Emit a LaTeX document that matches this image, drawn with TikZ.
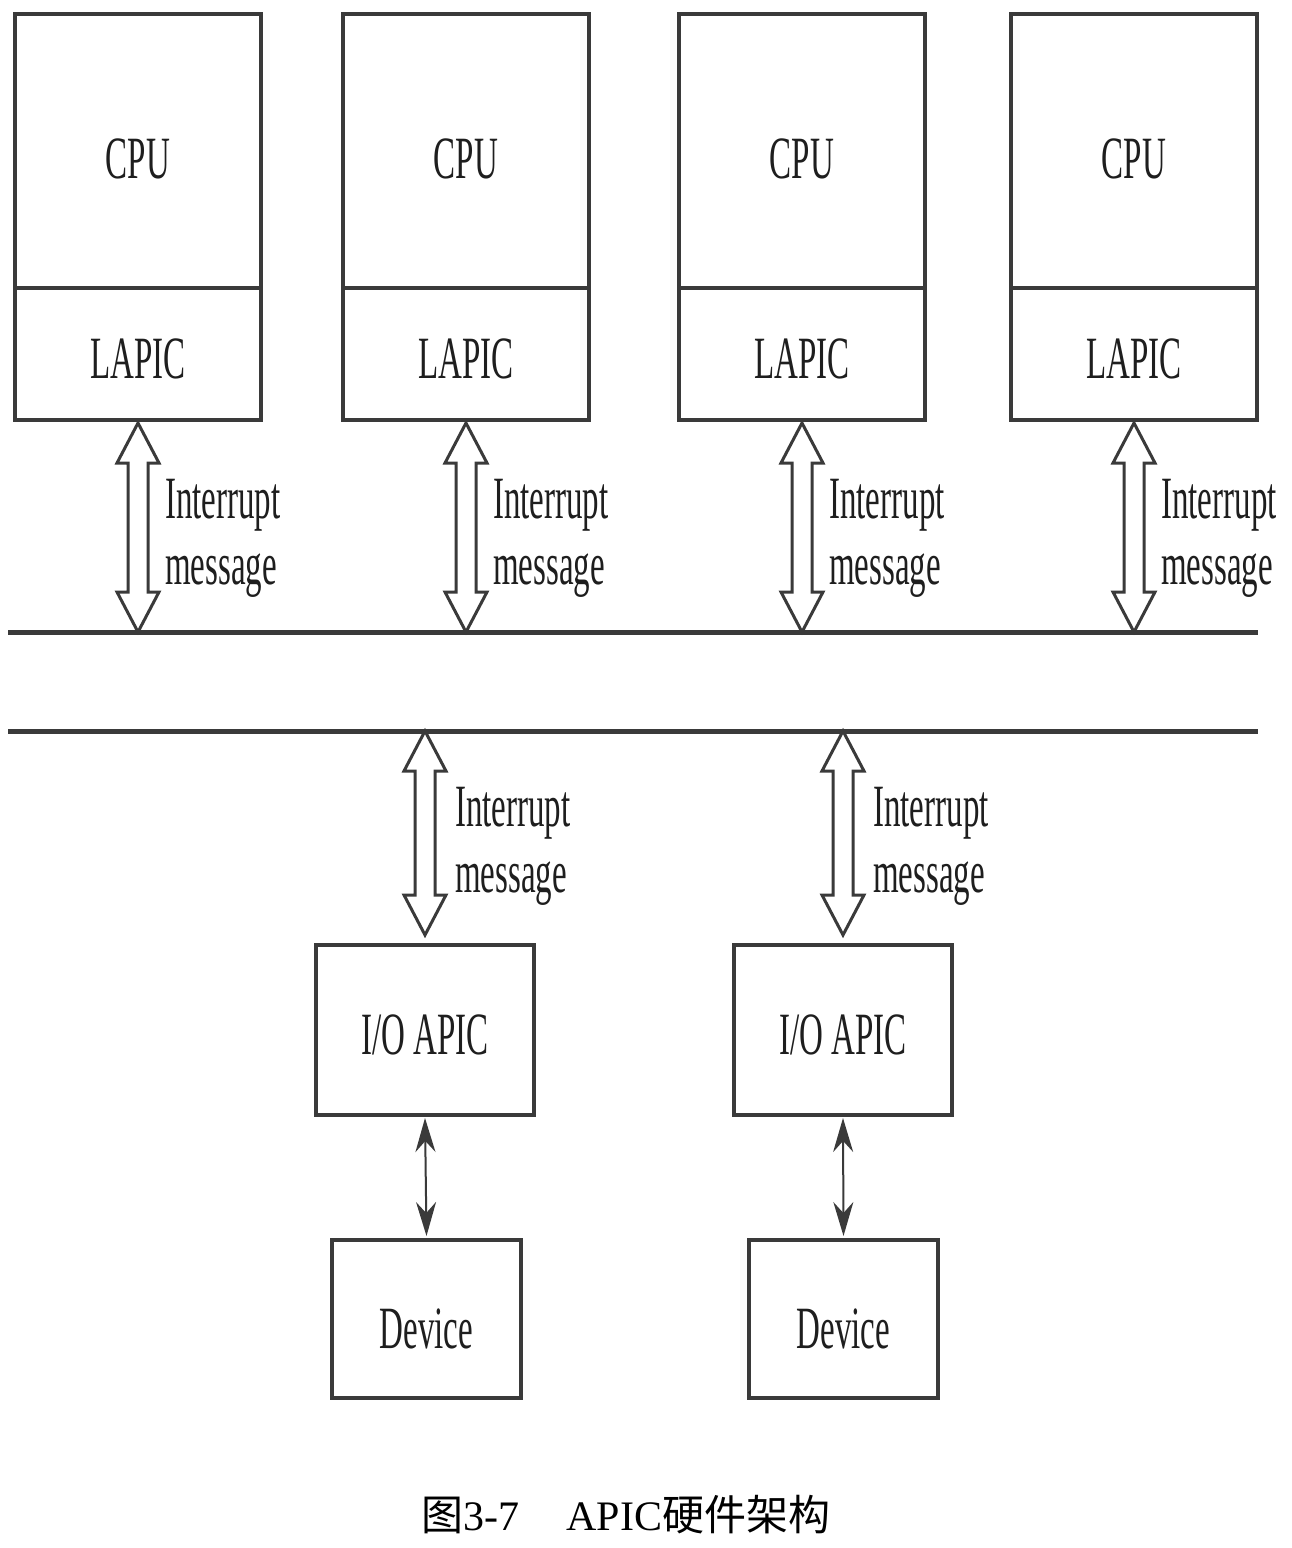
\documentclass[tikz,border=0pt]{standalone}
\usepackage{fontspec}
\setmainfont{Liberation Serif}
\newfontfamily\narrowfont[FakeStretch=0.55]{Liberation Serif}
\newfontfamily\cjk{Noto Sans CJK SC}
\usetikzlibrary{calc,arrows.meta}
\definecolor{linegray}{HTML}{3A3A3A}
\definecolor{textdark}{HTML}{1E1E1E}
\newcommand\fatarrow[2]{%
  \draw[fatarr] let \p1=#1, \p2=#2 in
    (\x1,\y1) -- (\x1+21pt,\y1-40pt) -- (\x1+10pt,\y1-40pt) -- (\x1+10pt,\y2+40pt)
    -- (\x1+21pt,\y2+40pt) -- (\x1,\y2) -- (\x1-21pt,\y2+40pt) -- (\x1-10pt,\y2+40pt)
    -- (\x1-10pt,\y1-40pt) -- (\x1-21pt,\y1-40pt) -- cycle;}
\begin{document}
\begin{tikzpicture}[x=1pt,y=-1pt,
  box/.style={draw=linegray, line width=3.8pt, inner sep=0pt, outer sep=0pt,
    text=textdark, font=\narrowfont\fontsize{60}{66}\selectfont},
  cpubox/.style={box, minimum width=246pt, minimum height=274pt, text height=54pt, text depth=0pt},
  lapicbox/.style={box, minimum width=246pt, minimum height=132pt, text height=48pt, text depth=0pt},
  iobox/.style={box, minimum width=218pt, minimum height=170pt, text height=48pt, text depth=0pt},
  devbox/.style={box, minimum width=189pt, minimum height=158pt, text height=58pt, text depth=0pt},
  bus/.style={draw=linegray, line width=5pt},
  fatarr/.style={draw=linegray, line width=3pt, fill=white, line join=miter},
  thinarr/.style={draw=linegray, line width=2pt, {Stealth[length=34pt,width=20pt]}-{Stealth[length=34pt,width=20pt]}, fill=textdark},
  lbl/.style={align=left, inner sep=0pt, text=textdark, font=\narrowfont\fontsize{60}{66}\selectfont}]
\useasboundingbox (0,0) rectangle (1291,1548);
% CPU + LAPIC columns
\foreach \i/\xl in {1/15, 2/343, 3/679, 4/1011} {
  \node[cpubox, anchor=north west] (cpu\i) at (\xl,14) {CPU};
  \node[lapicbox, anchor=north west] (lapic\i) at (\xl,288) {LAPIC};
}
% buses
\coordinate (busAL) at (8,632);
\coordinate (busAR) at (1258,632);
\coordinate (busBL) at (8,731);
\coordinate (busBR) at (1258,731);
\draw[bus] (busAL) -- (busAR);
\draw[bus] (busBL) -- (busBR);
% I/O APIC and devices
\node[iobox, anchor=north west] (io1) at (316,945) {I/O APIC};
\node[iobox, anchor=north west] (io2) at (734,945) {I/O APIC};
\node[devbox, anchor=north west] (dev1) at (332,1240) {Device};
\node[devbox, anchor=north west] (dev2) at (749,1240) {Device};
% top fat arrows
\foreach \i in {1,2,3,4} {
  \fatarrow{($(lapic\i.south)+(0,3)$)}{(lapic\i.south |- busAL)}
  \node[lbl, anchor=west] (msg\i) at ($(lapic\i.south)+(27,118)$) {Interrupt\\message};
}
% bottom fat arrows
\foreach \i in {1,2} {
  \fatarrow{(io\i.north |- busBL)}{($(io\i.north)+(0,-10)$)}
  \node[lbl, anchor=west] (iomsg\i) at ($(io\i.north)+(30,-99)$) {Interrupt\\message};
  \draw[thinarr] ($(io\i.south)+(0,3)$) -- ($(dev\i.north)+(0,-4)$);
}
% caption
\node[text=black, font=\fontsize{42}{50}\selectfont] (cap) at (626,1515)
  {{\cjk 图}3-7\hspace{47pt}APIC{\cjk 硬件架构}};
\end{tikzpicture}
\end{document}
